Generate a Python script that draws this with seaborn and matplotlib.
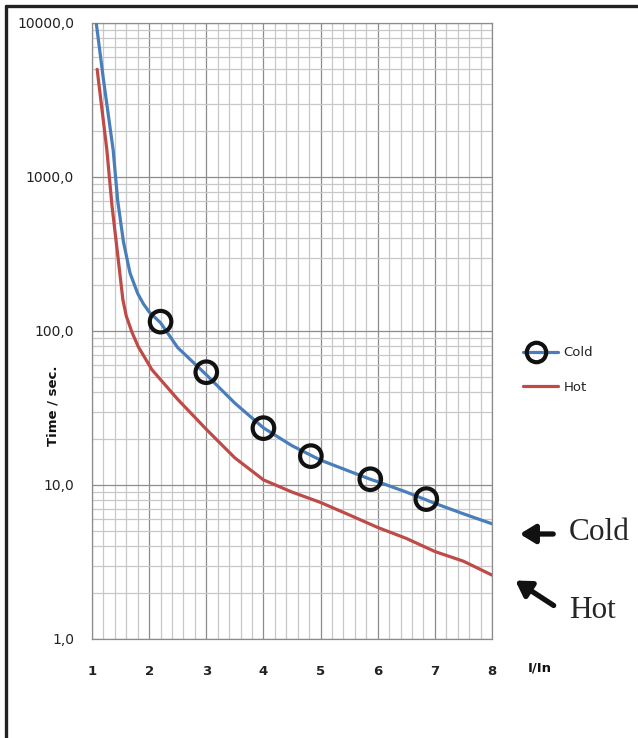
import numpy as np
import pandas as pd
import seaborn as sns
from matplotlib import pyplot as plt
from matplotlib.lines import Line2D
from matplotlib.legend_handler import HandlerLine2D
from matplotlib.ticker import FixedLocator, FuncFormatter, LogLocator, NullFormatter

# Data (I/In vs trip time in seconds)
cold_x = [1.06, 1.2, 1.37, 1.45, 1.55, 1.665, 1.8, 1.9, 2.0, 2.2, 2.5, 3.0, 3.5, 4.0, 4.5, 4.83,
          5.0, 5.5, 5.87, 6.0, 6.5, 6.85, 7.0, 7.5, 8.0]
cold_y = [11000, 4300, 1500, 700, 380, 238, 175, 150, 133, 113, 78, 52, 34, 23.5, 18, 15.6,
          14.5, 12.3, 10.9, 10.5, 9.0, 8.0, 7.6, 6.5, 5.6]
hot_x = [1.09, 1.26, 1.35, 1.44, 1.54, 1.6, 1.7, 1.81, 2.05, 2.5, 3.0, 3.5, 4.0, 4.5, 5.0,
         5.5, 6.0, 6.5, 7.0, 7.5, 8.0]
hot_y = [5000, 1500, 650, 336, 160, 125, 98, 79, 56, 36, 23, 15, 10.8, 9.0, 7.7,
         6.4, 5.3, 4.5, 3.7, 3.2, 2.6]
marker_x = [2.2, 3.0, 4.0, 4.83, 5.87, 6.85]
marker_y = [115, 54, 23.4, 15.4, 10.9, 8.1]

y_ticks = [1, 10, 100, 1000, 10000]
x_ticks = [1, 2, 3, 4, 5, 6, 7, 8]

BLUE = '#4a7ebb'
RED = '#be4b48'


class LeftMarker(HandlerLine2D):
    # legend sample with the circle near the left end of the line (Excel style)
    def create_artists(self, *args, **kwargs):
        artists = super().create_artists(*args, **kwargs)
        for a in artists:
            x = a.get_xdata()
            y = a.get_ydata()
            x0, x1 = x[0], x[-1]
            a.set_data([x0, x0 + 0.36 * (x1 - x0), x1], [y[0]] * 3)
            a.set_markevery([1])
        return artists


sns.set_style('white')
plt.rcParams['font.family'] = ['DejaVu Sans']

fig = plt.figure(figsize=(6.38, 7.38), dpi=100)
ax = fig.add_axes([92 / 638, 1 - 639 / 738, 400 / 638, 616 / 738])

df = pd.concat([
    pd.DataFrame({'x': cold_x, 'y': cold_y, 'curve': 'Cold'}),
    pd.DataFrame({'x': hot_x, 'y': hot_y, 'curve': 'Hot'}),
])
sns.lineplot(data=df, x='x', y='y', hue='curve', palette={'Cold': BLUE, 'Hot': RED},
             linewidth=2.3, sort=False, legend=False, ax=ax, zorder=3)
sns.scatterplot(x=marker_x, y=marker_y, marker='o', s=240, facecolor='none',
                edgecolor='#111111', linewidth=3.0, ax=ax, zorder=4)

ax.set_yscale('log')
ax.set_xlim(1, 8)
ax.set_ylim(1, 10000)

# grid
ax.xaxis.set_major_locator(FixedLocator(x_ticks))
ax.xaxis.set_minor_locator(FixedLocator(np.arange(1, 8.01, 0.2)))
ax.yaxis.set_major_locator(FixedLocator(y_ticks))
ax.yaxis.set_minor_locator(LogLocator(base=10, subs=np.arange(2, 10)))
ax.yaxis.set_minor_formatter(NullFormatter())
ax.yaxis.set_major_formatter(FuncFormatter(lambda v, p: f'{v:.1f}'.replace('.', ',')))
ax.grid(which='major', color='#8c8c8c', linewidth=0.9)
ax.grid(which='minor', color='#c8c8c8', linewidth=0.9)
ax.set_axisbelow(True)
for s in ax.spines.values():
    s.set_color('#8c8c8c')
    s.set_linewidth(0.9)

ax.tick_params(which='major', direction='out', length=5, width=0.9, color='#8c8c8c')
ax.tick_params(which='minor', length=0)
ax.tick_params(axis='y', labelsize=10, pad=8, labelcolor='#222222')
ax.tick_params(axis='x', labelsize=9.5, pad=14, labelcolor='#222222')
for lbl in ax.get_xticklabels():
    lbl.set_fontweight('bold')

ax.set_xlabel('')
ax.set_ylabel('Time / sec.', fontsize=9.5, fontweight='bold', color='#111111')
ax.yaxis.set_label_coords(-0.082, 0.378)
ax.text(1.12, -0.047, 'I/In', transform=ax.transAxes, fontsize=9.5, fontweight='bold',
        color='#111111', ha='center', va='center')

handles = [
    Line2D([], [], color=BLUE, linewidth=2.3, marker='o', markersize=14, markerfacecolor='none',
           markeredgecolor='#111111', markeredgewidth=3.0),
    Line2D([], [], color=RED, linewidth=2.3),
]
fig.legend(handles, ['Cold', 'Hot'], loc='center left', bbox_to_anchor=(507 / 638, 1 - 370 / 738),
           frameon=False, numpoints=2, handlelength=3.3, handletextpad=0.1,
           labelspacing=1.6, fontsize=9.5, labelcolor='#222222',
           handler_map={handles[0]: LeftMarker()})

# annotations outside the plot
fig.text(569 / 638, 1 - 533 / 738, 'Cold', fontsize=22.5, family='Liberation Serif', va='center', ha='left')
fig.text(569 / 638, 1 - 610 / 738, 'Hot', fontsize=22.5, family='Liberation Serif', va='center', ha='left')
arrow = dict(arrowstyle='-|>,head_length=0.9,head_width=0.55', color='#111111', lw=3.8)
fig.add_artist(plt.Annotation('', xy=(517 / 638, 1 - 534 / 738), xytext=(556 / 638, 1 - 534 / 738),
                              xycoords='figure fraction', arrowprops=arrow))
fig.add_artist(plt.Annotation('', xy=(513 / 638, 1 - 579 / 738), xytext=(556 / 638, 1 - 607 / 738),
                              xycoords='figure fraction', arrowprops=arrow))

# outer frame (left and top edges)
fig.add_artist(Line2D([5.5 / 638, 5.5 / 638], [0, 1 - 5.5 / 738], color='#222222', linewidth=2.4,
                      transform=fig.transFigure))
fig.add_artist(Line2D([5.5 / 638, 1], [1 - 5.5 / 738, 1 - 5.5 / 738], color='#222222', linewidth=2.4,
                      transform=fig.transFigure))

fig.savefig('out.png', dpi=100)
